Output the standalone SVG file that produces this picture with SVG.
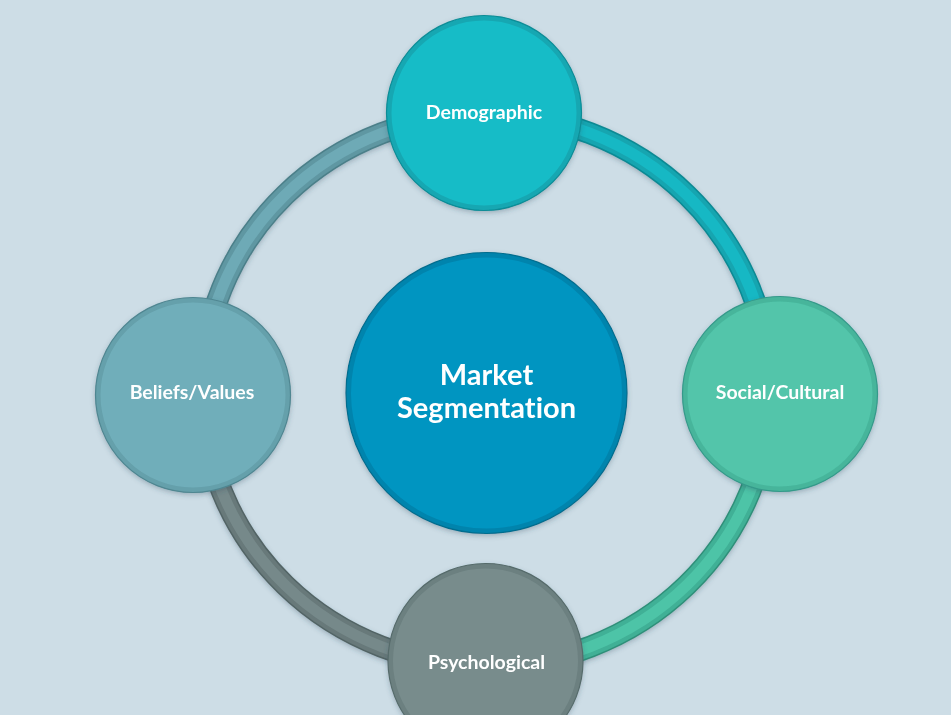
<svg xmlns="http://www.w3.org/2000/svg" width="951" height="715" viewBox="0 0 951 715">
<defs>
<filter id="sh" x="-20%" y="-20%" width="140%" height="140%">
<feDropShadow dx="0" dy="2" stdDeviation="2.5" flood-color="#2a4a5a" flood-opacity="0.3"/>
</filter>
<style>
.lbl{font-family:Lato,"Open Sans","Liberation Sans",sans-serif;font-weight:700;fill:#ffffff;text-anchor:middle;font-variant-ligatures:none}
.small{font-size:19.5px}
.big{font-size:29px}
.arc{fill:none}
</style>
</defs>
<rect x="0" y="0" width="951" height="715" fill="#cddde6"/>
<g id="connectors" filter="url(#sh)">
<g id="arc-tl">
<path class="arc" d="M202,390 A284,276 0 0 1 486,114" stroke="#4b7f89" stroke-width="22"/>
<path class="arc" d="M202,390 A284,276 0 0 1 486,114" stroke="#5f97a2" stroke-width="19"/>
<path class="arc" d="M202,390 A284,276 0 0 1 486,114" stroke="#6eaab6" stroke-width="11"/>
</g>
<g id="arc-tr">
<path class="arc" d="M486,114 A284,276 0 0 1 770,390" stroke="#0c8993" stroke-width="22"/>
<path class="arc" d="M486,114 A284,276 0 0 1 770,390" stroke="#13a5b0" stroke-width="19"/>
<path class="arc" d="M486,114 A284,276 0 0 1 770,390" stroke="#19b8c4" stroke-width="11"/>
</g>
<g id="arc-br">
<path class="arc" d="M770,390 A284,276 0 0 1 486,666" stroke="#2f8f79" stroke-width="22"/>
<path class="arc" d="M770,390 A284,276 0 0 1 486,666" stroke="#40b096" stroke-width="19"/>
<path class="arc" d="M770,390 A284,276 0 0 1 486,666" stroke="#4ec4a7" stroke-width="11"/>
</g>
<g id="arc-bl">
<path class="arc" d="M486,666 A284,276 0 0 1 202,390" stroke="#526465" stroke-width="22"/>
<path class="arc" d="M486,666 A284,276 0 0 1 202,390" stroke="#67797a" stroke-width="19"/>
<path class="arc" d="M486,666 A284,276 0 0 1 202,390" stroke="#76898a" stroke-width="11"/>
</g>
</g>
<g id="center" filter="url(#sh)">
<circle cx="486.5" cy="393" r="138" fill="#0595c1" stroke="#0584ad" stroke-width="5"/>
<circle cx="486.5" cy="393" r="140.5" fill="none" stroke="#066d8e" stroke-width="1.2"/>
<text class="lbl big" x="486.5" y="385">Market</text>
<text class="lbl big" x="486.5" y="418">Segmentation</text>
</g>
<g id="demographic" filter="url(#sh)">
<circle cx="484" cy="113" r="95" fill="#17bcc7" stroke="#14a7b2" stroke-width="5"/>
<circle cx="484" cy="113" r="97.5" fill="none" stroke="#0e8c96" stroke-width="1.2"/>
<text class="lbl small" x="484" y="119">Demographic</text>
</g>
<g id="social" filter="url(#sh)">
<circle cx="780" cy="394" r="95" fill="#52c5aa" stroke="#47b59b" stroke-width="5"/>
<circle cx="780" cy="394" r="97.5" fill="none" stroke="#35998a" stroke-width="1.2"/>
<text class="lbl small" x="780" y="399">Social/Cultural</text>
</g>
<g id="psychological" filter="url(#sh)">
<circle cx="485.5" cy="661" r="95" fill="#788c8c" stroke="#6c8080" stroke-width="5"/>
<circle cx="485.5" cy="661" r="97.5" fill="none" stroke="#566b6b" stroke-width="1.2"/>
<text class="lbl small" x="486.5" y="669">Psychological</text>
</g>
<g id="beliefs" filter="url(#sh)">
<circle cx="193" cy="395" r="95" fill="#70aeba" stroke="#65a0ab" stroke-width="5"/>
<circle cx="193" cy="395" r="97.5" fill="none" stroke="#4f8691" stroke-width="1.2"/>
<text class="lbl small" x="192" y="399">Beliefs/Values</text>
</g>
</svg>
